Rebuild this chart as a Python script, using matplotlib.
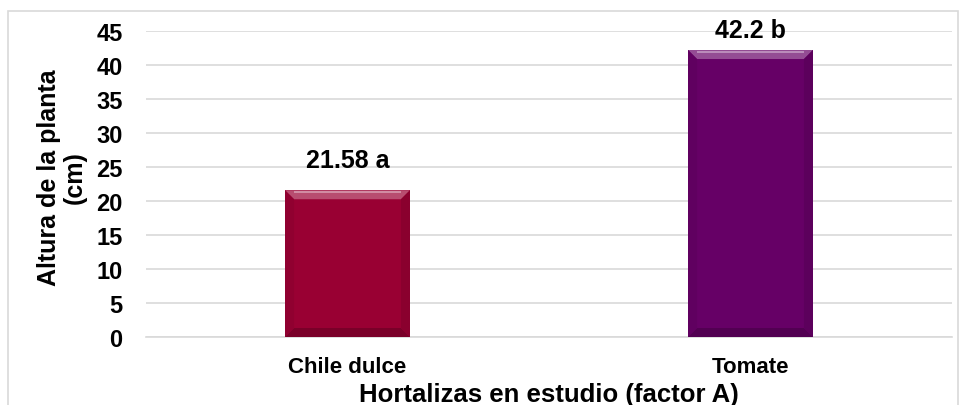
import matplotlib
matplotlib.use("Agg")
import matplotlib.pyplot as plt
from matplotlib.patches import Rectangle, Polygon
from matplotlib.colors import to_rgb

categories = ["Chile dulce", "Tomate"]
values = [21.58, 42.2]
labels = ["21.58 a", "42.2 b"]
colors = ["#990033", "#660066"]
yticks = [0, 5, 10, 15, 20, 25, 30, 35, 40, 45]

plt.rcParams['font.family'] = ['Liberation Sans', 'DejaVu Sans']
plt.rcParams['font.weight'] = 'bold'

W, H = 966, 406
fig = plt.figure(figsize=(W/100, H/100), dpi=100)
ax = fig.add_axes([146/W, 1-338/H, (952-146)/W, (338-32)/H])

x = list(range(len(categories)))
bars = ax.bar(x, values, width=0.31, color=colors, edgecolor='none', zorder=3)
ax.set_xlim(-0.5, 1.5)
ax.set_ylim(0, 45)
ax.set_yticks(yticks)
ax.set_yticklabels([str(t) for t in yticks], fontsize=17, fontweight='bold')
ax.set_xticks(x)
ax.set_xticklabels(categories, fontsize=16, fontweight='bold')
ax.tick_params(axis='both', length=0)
ax.tick_params(axis='y', pad=17)
ax.tick_params(axis='x', pad=14)
ax.yaxis.grid(True, color='#d9d9d9', linewidth=1.2, zorder=0)
for s in ['top', 'right', 'left']:
    ax.spines[s].set_visible(False)
ax.spines['bottom'].set_color('#d9d9d9')
ax.spines['bottom'].set_linewidth(1.2)


def mix(c, other, t):
    a = to_rgb(c)
    b = to_rgb(other)
    return tuple(a[i]*(1-t) + b[i]*t for i in range(3))

# bevel effect on bars
px_x = 2.0 / 806  # data units per pixel (x)
px_y = 45.0 / 306  # data units per pixel (y)
bev = 9
for b, c in zip(bars, colors):
    x0, y0, bw, bh = b.get_x(), b.get_y(), b.get_width(), b.get_height()
    x1, y1 = x0 + bw, y0 + bh
    dx, dy = bev*px_x, bev*px_y
    top = [(x0, y1), (x1, y1), (x1-dx, y1-dy), (x0+dx, y1-dy)]
    bot = [(x0, y0), (x1, y0), (x1-dx, y0+dy), (x0+dx, y0+dy)]
    left = [(x0, y0), (x0, y1), (x0+dx, y1-dy), (x0+dx, y0+dy)]
    right = [(x1, y0), (x1, y1), (x1-dx, y1-dy), (x1-dx, y0+dy)]
    ax.add_patch(Polygon(top, closed=True, color=mix(c, 'white', 0.3), lw=0, zorder=4))
    ax.add_patch(Polygon(bot, closed=True, color=mix(c, 'black', 0.2), lw=0, zorder=4))
    ax.add_patch(Polygon(left, closed=True, color=mix(c, 'black', 0.06), lw=0, zorder=4))
    ax.add_patch(Polygon(right, closed=True, color=mix(c, 'black', 0.1), lw=0, zorder=4))
    ax.add_patch(Rectangle((x0 + dx, y1 - 3*px_y), bw - 2*dx, 2*px_y,
                           color=mix(c, 'white', 0.55), lw=0, zorder=5))

offsets = [13, 6]
for b, lab, off in zip(bars, labels, offsets):
    ax.annotate(lab, (b.get_x() + b.get_width()/2, b.get_height()),
                xytext=(0, off), textcoords='offset points', ha='center', va='bottom',
                fontsize=18, fontweight='bold')

fig.text(62/W, 1-178/H, "Altura de la planta\n(cm)", rotation=90, ha='center', va='center',
         fontsize=18, fontweight='bold', linespacing=1.1, multialignment='center')
fig.text(549/W, 1-395/H, "Hortalizas en estudio (factor A)", ha='center', va='center',
         fontsize=18.5, fontweight='bold')

fig.patches.append(Rectangle((8/W, -0.05), (958-8)/W, 1.05 - 12/H, transform=fig.transFigure,
                             fill=False, edgecolor='#d9d9d9', linewidth=1.2))

fig.savefig("out.png", dpi=100)
